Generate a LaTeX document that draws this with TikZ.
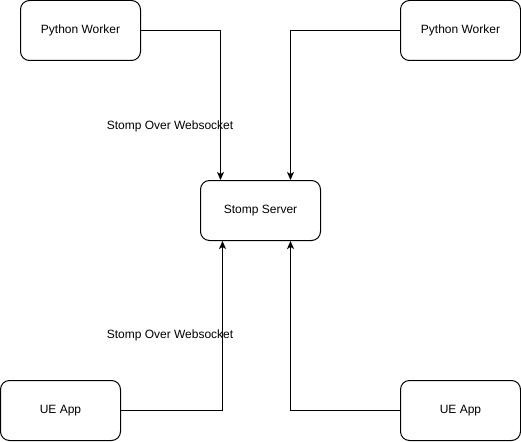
\documentclass[tikz,border=0pt]{standalone}
\usepackage{fontspec}
\setmainfont{Liberation Sans}
\usepackage{tikz}
\usetikzlibrary{positioning, arrows.meta}

\tikzset{
    appbox/.style={draw, line width=1pt, rounded corners=9pt, minimum width=120pt, minimum height=60pt, inner sep=0pt, fill=white},
    link/.style={-{Stealth[length=8pt, width=7pt, inset=2pt]}, line width=0.9pt},
    linklabel/.style={inner sep=0pt}
}

\begin{document}
\begin{tikzpicture}[x=1pt, y=-1pt, every node/.style={font=\fontsize{12}{14}\selectfont}]
    \useasboundingbox (0, 0) rectangle (521, 441);

    % Workers and apps
    \node[appbox] (pyworkerleft) at (80.5, 30.5) {Python Worker};
    \node[appbox] (pyworkerright) at (460.5, 30.5) {Python Worker};
    \node[appbox] (stompserver) at (260.5, 210.5) {Stomp Server};
    \node[appbox] (ueappleft) at (60.5, 410.5) {UE App};
    \node[appbox] (ueappright) at (460.5, 410.5) {UE App};

    % Connections to the server
    \draw[link] (pyworkerleft.east) -| ([xshift=-40pt]stompserver.north);
    \draw[link] (pyworkerright.west) -| ([xshift=30pt]stompserver.north);
    \draw[link] (ueappleft.east) -| ([xshift=-38pt]stompserver.south);
    \draw[link] (ueappright.west) -| ([xshift=30pt]stompserver.south);

    % Labels
    \node[linklabel] (toplabel) at (170, 126) {Stomp Over Websocket};
    \node[linklabel] (bottomlabel) at (170, 335) {Stomp Over Websocket};
\end{tikzpicture}
\end{document}
